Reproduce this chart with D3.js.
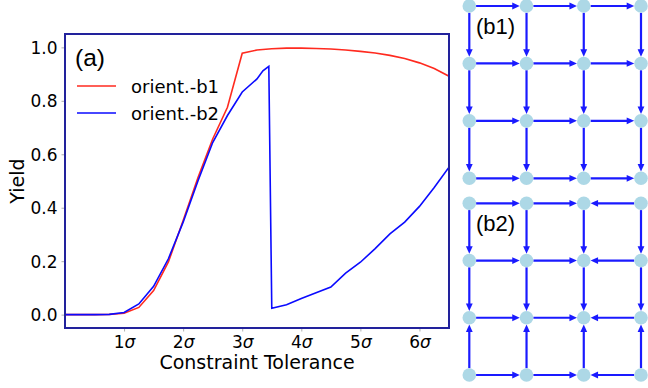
<!DOCTYPE html>
<html>
<head>
<meta charset="utf-8">
<script src="https://cdn.jsdelivr.net/npm/d3@7"></script>
<style>
  html, body { margin: 0; padding: 0; background: #fff; }
  svg { display: block; }
</style>
</head>
<body>
<svg id="chart" width="648" height="388"></svg>
<script>
// yield vs tolerance (in sigma)
const sigmaB1 = [0, 0.25, 0.5, 0.75, 1, 1.25, 1.5, 1.75, 2, 2.25, 2.5, 2.75, 3, 3.25, 3.5, 3.75, 4, 4.25, 4.5, 4.75, 5, 5.25, 5.5, 5.75, 6, 6.25, 6.5];
const yieldB1 = [0, 0, 0, 0.001, 0.005, 0.027, 0.09, 0.197, 0.352, 0.512, 0.657, 0.776, 0.978, 0.99, 0.995, 0.997, 0.997, 0.996, 0.994, 0.99, 0.985, 0.979, 0.97, 0.958, 0.942, 0.921, 0.892];
const sigmaB2 = [0, 0.25, 0.5, 0.75, 1, 1.25, 1.5, 1.75, 2, 2.25, 2.5, 2.75, 3, 3.25, 3.35, 3.45, 3.5, 3.75, 4, 4.25, 4.5, 4.75, 5, 5.25, 5.5, 5.75, 6, 6.25, 6.5];
const yieldB2 = [0, 0, 0, 0.001, 0.008, 0.04, 0.106, 0.209, 0.346, 0.5, 0.644, 0.745, 0.833, 0.882, 0.912, 0.929, 0.024, 0.037, 0.06, 0.082, 0.103, 0.155, 0.196, 0.247, 0.302, 0.346, 0.405, 0.476, 0.552];
const seriesNames = ['orient.-b1', 'orient.-b2'];
const xTicks = [1, 2, 3, 4, 5, 6];
const yTicks = [0, 0.2, 0.4, 0.6, 0.8, 1.0];

// 4x4 lattice orientations: +1 = right/down, -1 = left/up (per gap index)
const gridIdx = [0, 1, 2, 3];
const b1Horiz = [1, 1, 1];
const b1Vert = [1, 1, 1];
const b2Horiz = [1, 1, -1];
const b2Vert = [1, 1, -1];

const svg = d3.select('#chart');
const FONT = '"DejaVu Sans", sans-serif';
const margin = { left: 65, right: 199, top: 34, bottom: 60 };
const W = 648, H = 388;
const x = d3.scaleLinear().domain([0, 6.5]).range([margin.left, W - margin.right]);
const y = d3.scaleLinear().domain([-0.05, 1.05]).range([H - margin.bottom, margin.top]);

svg.append('defs').append('clipPath').attr('id', 'clip')
    .append('rect')
    .attr('x', x(0)).attr('y', y(1.05))
    .attr('width', x(6.5) - x(0)).attr('height', y(-0.05) - y(1.05));

// axes
const xAxis = svg.append('g')
    .attr('transform', `translate(0,${y(-0.05)})`)
    .call(d3.axisBottom(x).tickValues(xTicks).tickSize(3.5).tickPadding(4).tickFormat(d => d));
const yAxis = svg.append('g')
    .attr('transform', `translate(${x(0)},0)`)
    .call(d3.axisLeft(y).tickValues(yTicks).tickSize(3.5).tickPadding(4).tickFormat(d3.format('.1f')));

[xAxis, yAxis].forEach(a => {
    a.select('.domain').remove();
    a.selectAll('.tick line').attr('stroke', '#999').attr('stroke-width', 0.8);
    a.selectAll('.tick text').attr('fill', '#000').attr('font-family', FONT).attr('font-size', '17px');
});
yAxis.selectAll('.tick text').attr('dy', '0.36em');
xAxis.selectAll('.tick text').each(function(d) {
    const t = d3.select(this).text('').attr('dy', '0.71em');
    t.append('tspan').text(d);
    t.append('tspan').attr('font-style', 'italic').text('σ');
});

// lines
const line = d3.line().x(d => x(d[0])).y(d => y(d[1]));
const plot = svg.append('g').attr('clip-path', 'url(#clip)');
plot.append('path')
    .datum(d3.zip(sigmaB1, yieldB1))
    .attr('d', line).attr('fill', 'none')
    .attr('stroke', '#ff2a1f').attr('stroke-width', 1.6);
plot.append('path')
    .datum(d3.zip(sigmaB2, yieldB2))
    .attr('d', line).attr('fill', 'none')
    .attr('stroke', '#0a0aff').attr('stroke-width', 1.6);

// frame
svg.append('rect')
    .attr('x', x(0)).attr('y', y(1.05))
    .attr('width', x(6.5) - x(0)).attr('height', y(-0.05) - y(1.05))
    .attr('fill', 'none').attr('stroke', '#22229c').attr('stroke-width', 2);

// labels
svg.append('text')
    .attr('x', (x(0) + x(6.5)) / 2).attr('y', 369)
    .attr('text-anchor', 'middle')
    .attr('font-family', FONT).attr('font-size', '19px')
    .text('Constraint Tolerance');
svg.append('text')
    .attr('transform', `translate(24,${(y(-0.05) + y(1.05)) / 2}) rotate(-90)`)
    .attr('text-anchor', 'middle')
    .attr('font-family', FONT).attr('font-size', '19px')
    .text('Yield');
svg.append('text')
    .attr('x', 75).attr('y', 66)
    .attr('font-family', '"Liberation Sans", Arial, sans-serif').attr('font-size', '24.5px')
    .text('(a)');

// legend
const legend = svg.append('g');
[['#ff2a1f', 86], ['#0a0aff', 113]].forEach(([c, ly], i) => {
    legend.append('line')
        .attr('x1', 77).attr('x2', 116).attr('y1', ly).attr('y2', ly)
        .attr('stroke', c).attr('stroke-width', 1.6);
    legend.append('text')
        .attr('x', 131).attr('y', ly + 7)
        .attr('font-family', FONT).attr('font-size', '18px')
        .text(seriesNames[i]);
});

// lattice panels
const gx = d3.scaleLinear().domain([0, 3]).range([469.3, 641]);
const NODE_R = 6.8;

function drawLattice(yRange, horiz, vert, label, labelY) {
    const gy = d3.scaleLinear().domain([0, 3]).range(yRange);
    const g = svg.append('g');
    const edges = [];
    gridIdx.forEach(r => {
        horiz.forEach((dir, c) => {
            const a = [c, r], b = [c + 1, r];
            edges.push(dir > 0 ? [a, b] : [b, a]);
        });
    });
    gridIdx.forEach(c => {
        vert.forEach((dir, r) => {
            const a = [c, r], b = [c, r + 1];
            edges.push(dir > 0 ? [a, b] : [b, a]);
        });
    });

    edges.forEach(([s, t]) => {
        const x1 = gx(s[0]), y1 = gy(s[1]), x2 = gx(t[0]), y2 = gy(t[1]);
        const len = Math.hypot(x2 - x1, y2 - y1);
        const ux = (x2 - x1) / len, uy = (y2 - y1) / len;
        const tipX = x2 - ux * NODE_R, tipY = y2 - uy * NODE_R;
        const headL = 7.5, headW = 3.4;
        const bx = tipX - ux * headL, by = tipY - uy * headL;
        g.append('line')
            .attr('x1', x1 + ux * NODE_R).attr('y1', y1 + uy * NODE_R)
            .attr('x2', bx + ux).attr('y2', by + uy)
            .attr('stroke', '#1a1aff').attr('stroke-width', 2.2);
        g.append('path')
            .attr('d', `M${tipX},${tipY}L${bx - uy * headW},${by + ux * headW}L${bx + uy * headW},${by - ux * headW}Z`)
            .attr('fill', '#1a1aff');
    });

    const nodes = d3.cross(gridIdx, gridIdx);
    g.selectAll('circle')
        .data(nodes)
        .join('circle')
        .attr('cx', d => gx(d[0])).attr('cy', d => gy(d[1]))
        .attr('r', NODE_R)
        .attr('fill', '#add8e6');

    g.append('text')
        .attr('x', 476).attr('y', labelY)
        .attr('font-family', '"Liberation Sans", Arial, sans-serif').attr('font-size', '22px')
        .text(label);
}

drawLattice([6, 178.3], b1Horiz, b1Vert, '(b1)', 34);
drawLattice([203.3, 375], b2Horiz, b2Vert, '(b2)', 231);
</script>
</body>
</html>
